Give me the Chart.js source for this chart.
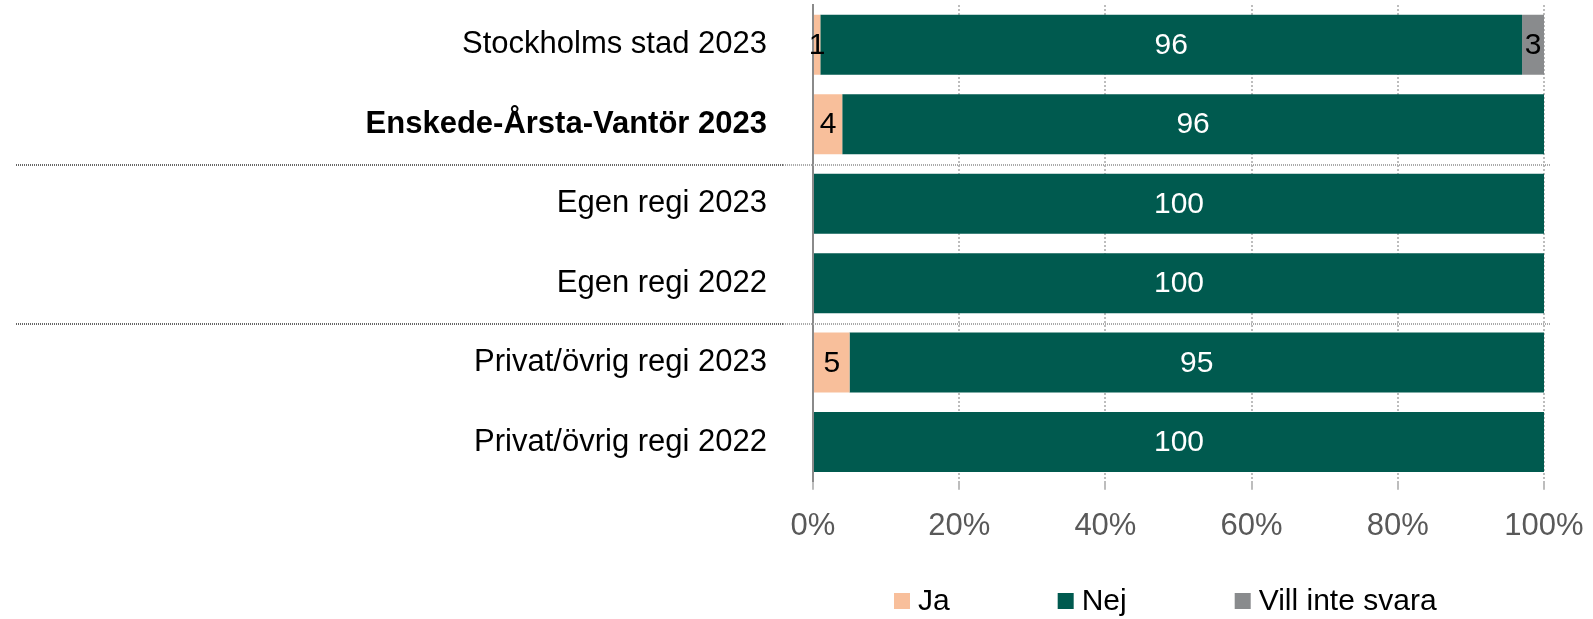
<!DOCTYPE html>
<html>
<head>
<meta charset="utf-8">
<script src="https://cdn.jsdelivr.net/npm/chart.js@4/dist/chart.umd.min.js"></script>
<style>
  html, body { margin: 0; padding: 0; background: #ffffff; }
  #wrap { width: 1593px; height: 619px; position: relative; }
</style>
</head>
<body>
<div id="wrap"><canvas id="c" width="1593" height="619"></canvas></div>
<script>
// Survey answers per unit (percent of respondents)
const categories = [
  'Stockholms stad 2023',
  'Enskede-Årsta-Vantör 2023',
  'Egen regi 2023',
  'Egen regi 2022',
  'Privat/övrig regi 2023',
  'Privat/övrig regi 2022'
];
const seriesNames = ['Ja', 'Nej', 'Vill inte svara'];
const jaValues   = [1, 4, 0, 0, 5, 0];
const nejValues  = [96, 96, 100, 100, 95, 100];
const villValues = [3, 0, 0, 0, 0, 0];
const xTicks = [0, 20, 40, 60, 80, 100];

// Row index shown in bold, and boundaries after which a separator is drawn
const boldRow = 1;
const separatorsAfter = [1, 3];

const colors = ['#F8BF9B', '#005A4F', '#898B8D'];
const labelColors = ['#000000', '#ffffff', '#000000'];
const FONT = '"Liberation Sans", Arial, Helvetica, sans-serif';

// Value labels centred in each bar segment
const valueLabels = {
  id: 'valueLabels',
  afterDatasetsDraw(chart) {
    const ctx = chart.ctx;
    ctx.save();
    ctx.font = '30px ' + FONT;
    ctx.textAlign = 'center';
    ctx.textBaseline = 'middle';
    chart.data.datasets.forEach((ds, di) => {
      const meta = chart.getDatasetMeta(di);
      meta.data.forEach((bar, i) => {
        const v = ds.data[i];
        if (!v) return;
        const p = bar.getProps(['x', 'y', 'base'], true);
        ctx.fillStyle = labelColors[di];
        ctx.fillText(String(v), (p.x + p.base) / 2, p.y + 1);
      });
    });
    ctx.restore();
  }
};

// Dotted group separators between category blocks
const groupSeparators = {
  id: 'groupSeparators',
  beforeDatasetsDraw(chart) {
    const ctx = chart.ctx;
    const y = chart.scales.y;
    const area = chart.chartArea;
    ctx.save();
    ctx.lineWidth = 2;
    ctx.setLineDash([1, 1]);
    separatorsAfter.forEach(i => {
      const py = Math.round((y.getPixelForValue(i) + y.getPixelForValue(i + 1)) / 2) + 1;
      ctx.strokeStyle = '#666666';
      ctx.beginPath();
      ctx.moveTo(16, py);
      ctx.lineTo(area.left - 30, py);
      ctx.stroke();
      ctx.strokeStyle = '#aaaaaa';
      ctx.beginPath();
      ctx.moveTo(area.left - 30, py);
      ctx.lineTo(area.right + 6, py);
      ctx.stroke();
    });
    ctx.restore();
  }
};

// Legend row under the x axis
const legendRow = {
  id: 'legendRow',
  afterDraw(chart) {
    const ctx = chart.ctx;
    const area = chart.chartArea;
    ctx.save();
    ctx.font = '30px ' + FONT;
    ctx.textBaseline = 'middle';
    ctx.textAlign = 'left';
    const box = 16, gapText = 8, gapItem = 108;
    const cy = 601;
    let x = area.left + 81;
    chart.data.datasets.forEach(ds => {
      ctx.fillStyle = ds.backgroundColor;
      ctx.fillRect(x, cy - box / 2, box, box);
      ctx.fillStyle = '#000000';
      const tx = x + box + gapText;
      ctx.fillText(ds.label, tx, cy + 1);
      x = tx + ctx.measureText(ds.label).width + gapItem;
    });
    ctx.restore();
  }
};

new Chart(document.getElementById('c'), {
  type: 'bar',
  data: {
    labels: categories,
    datasets: [
      { label: seriesNames[0], data: jaValues,   backgroundColor: colors[0] },
      { label: seriesNames[1], data: nejValues,  backgroundColor: colors[1] },
      { label: seriesNames[2], data: villValues, backgroundColor: colors[2] }
    ]
  },
  options: {
    indexAxis: 'y',
    responsive: false,
    animation: false,
    devicePixelRatio: 1,
    layout: { padding: { top: 5, right: 49, bottom: 56, left: 0 } },
    datasets: {
      bar: { categoryPercentage: 1, barPercentage: 0.755, borderWidth: 0 }
    },
    plugins: {
      legend: { display: false },
      tooltip: { enabled: false }
    },
    scales: {
      x: {
        stacked: true,
        min: 0,
        max: 100,
        afterBuildTicks(scale) { scale.ticks = xTicks.map(v => ({ value: v })); },
        afterFit(scale) { scale.paddingLeft = 0; scale.paddingRight = 0; },
        ticks: {
          callback: v => v + '%',
          font: { family: FONT, size: 31 },
          color: '#595959',
          padding: 18,
          maxRotation: 0
        },
        grid: {
          color: '#bdbdbd',
          lineWidth: 2,
          tickLength: 8,
          drawTicks: true
        },
        border: { display: false, dash: [2, 2] }
      },
      y: {
        stacked: true,
        afterFit(scale) {
          scale.width = 813;
          scale.paddingTop = 0;
          scale.paddingBottom = 0;
        },
        ticks: {
          font: ctx => ({ family: FONT, size: 31, weight: ctx.index === boldRow ? 'bold' : 'normal' }),
          color: '#000000',
          padding: 46
        },
        grid: { display: false, drawTicks: false },
        border: { display: true, color: '#8a8a8a', width: 2 }
      }
    }
  },
  plugins: [groupSeparators, valueLabels, legendRow]
});
</script>
</body>
</html>
